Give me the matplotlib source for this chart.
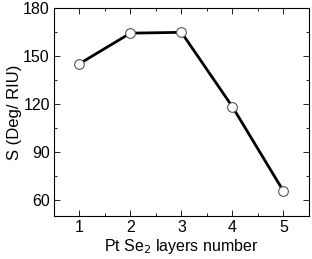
import matplotlib
matplotlib.use("Agg")
import matplotlib.pyplot as plt
from matplotlib.ticker import MultipleLocator

plt.rcParams['font.family'] = ['Liberation Sans', 'DejaVu Sans']

layers = [1, 2, 3, 4, 5]
sensitivity = [145.2, 164.3, 164.8, 118.3, 65.6]

fig = plt.figure(figsize=(3.12, 2.59), dpi=100)
ax = fig.add_axes([0.173, 0.166, 0.817, 0.803])
ax.plot(layers, sensitivity, color='black', lw=2, marker='o', ms=7,
        mfc='white', mec='#555555', mew=0.8)
ax.set_xlim(0.5, 5.5)
ax.set_ylim(50, 180)
ax.xaxis.set_major_locator(MultipleLocator(1))
ax.xaxis.set_minor_locator(MultipleLocator(0.5))
ax.yaxis.set_major_locator(MultipleLocator(30))
ax.yaxis.set_minor_locator(MultipleLocator(15))
ax.tick_params(which='both', direction='in', top=True, right=True, labelsize=11.5, width=0.6)
ax.tick_params(which='major', length=4, pad=3)
ax.tick_params(which='minor', length=2)
for s in ax.spines.values():
    s.set_linewidth(0.8)
ax.set_xlabel('Pt Se$_2$ layers number', fontsize=11.5, labelpad=1)
ax.set_ylabel('S (Deg/ RIU)', fontsize=12, labelpad=1)
fig.savefig('out.png', dpi=100)
